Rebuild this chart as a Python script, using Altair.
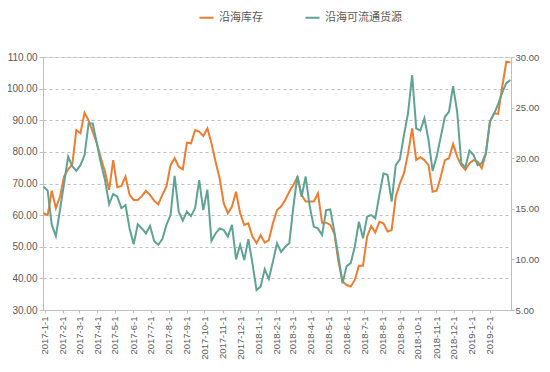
import altair as alt
import pandas as pd
from datetime import date, timedelta

# 沿海库存 (left axis), weekly
coastal_stock = [
    60.6, 60, 67.7, 62.2, 65.8, 72.2, 74.5, 76, 86.9, 85.9,
    92.4, 89.9, 86.4, 82.7, 78, 73.7, 68, 77.4, 68.8, 69.2,
    72.2, 66.4, 64.8, 64.8, 66, 67.7, 66.4, 64.5, 63.4, 66.4,
    69, 75.8, 78, 75.3, 74.5, 82.9, 82.7, 86.9, 86.4, 85,
    87.4, 82.7, 76.9, 71.6, 63.7, 60.6, 62.7, 67.4, 60.6, 56.9,
    57.4, 53.2, 51.1, 53.7, 51.3, 52.1, 57.4, 61.6, 62.7, 64.8,
    67.4, 69.5, 72, 66.4, 64.3, 64.3, 64.3, 66.9, 57.6, 57.6,
    56.9, 54.2, 45.3, 39, 37.9, 37.4, 39.5, 44, 44, 53.2,
    56.6, 54.5, 57.9, 57.4, 54.8, 55.3, 65.8, 70, 73.2, 79.5,
    87.4, 77.4, 78.3, 77.4, 75.8, 67.4, 67.7, 72.2, 77.4, 78,
    82.5, 78.5, 75.8, 74.3, 76.4, 77.4, 76.9, 74.8, 79.5, 89.6,
    92.2, 92, 100.6, 108.5, 108.3,
]

# 沿海可流通货源 (right axis), weekly
coastal_flow = [
    17.19, 16.78, 13.41, 12.31, 14.88, 17.5, 20.16, 19.22, 18.75, 19.31,
    20.31, 23.44, 23.44, 21.47, 19.5, 17.84, 15.47, 16.47, 16.19, 15.06,
    15.38, 13.06, 11.5, 13.47, 13.06, 12.56, 13.31, 11.81, 11.44, 12.0,
    13.41, 14.38, 18.25, 14.72, 13.84, 14.72, 14.28, 15.06, 17.84, 14.88,
    16.88, 11.84, 12.56, 13.06, 12.91, 12.25, 13.41, 10.0, 11.44, 9.94,
    12.0, 9.63, 6.97, 7.31, 9.03, 8.06, 9.78, 11.59, 10.75, 11.25,
    11.59, 15.22, 18.25, 16.19, 18.19, 15.22, 13.22, 13.06, 12.41, 14.88,
    14.94, 12.75, 10.28, 7.63, 9.34, 9.63, 11.25, 13.72, 12.09, 14.22,
    14.38, 14.06, 16.38, 18.5, 18.34, 15.72, 19.31, 19.88, 22.28, 24.44,
    28.22, 22.94, 22.72, 23.94, 21.81, 18.75, 20.16, 22.13, 24.09, 24.59,
    27.13, 24.59, 19.5, 19.09, 20.75, 20.31, 19.31, 19.5, 20.47, 23.63,
    24.38, 25.34, 26.47, 27.41, 27.72,
]

series_names = ["沿海库存", "沿海可流通货源"]
left_ticks = [30, 40, 50, 60, 70, 80, 90, 100, 110]
right_ticks = [5, 10, 15, 20, 25, 30]
month_ticks = [(y, m) for y in (2017, 2018) for m in range(1, 13)] + [(2019, 1), (2019, 2)]

start = date(2016, 12, 30)
dates = [(start + timedelta(days=7 * i)).isoformat() for i in range(len(coastal_stock))]

ORANGE = "#ED7D31"
GREEN = "#5FA395"
LABEL = "#595959"
AXIS = "#BFBFBF"

df1 = pd.DataFrame({"date": dates, "value": coastal_stock, "series": series_names[0]})
df2 = pd.DataFrame({"date": dates, "value": coastal_flow, "series": series_names[1]})

x = alt.X(
    "date:T",
    title=None,
    scale=alt.Scale(
        type="utc",
        domain=[alt.DateTime(year=2016, month=12, date=29, utc=True),
                alt.DateTime(year=2019, month=3, date=9, utc=True)],
    ),
    axis=alt.Axis(
        values=[alt.DateTime(year=y, month=m, date=1, utc=True) for y, m in month_ticks],
        labelExpr="utcFormat(datum.value, '%Y-%-m-%-d')",
        labelAngle=-90,
        labelAlign="right",
        labelBaseline="middle",
        labelFont="Liberation Sans",
        labelFontSize=9.5,
        labelColor=LABEL,
        labelPadding=3,
        labelBound=False,
        domainColor=AXIS,
        tickColor=AXIS,
        tickSize=3,
        grid=False,
        labelOverlap=False,
    ),
)

color = alt.Color(
    "series:N",
    scale=alt.Scale(domain=series_names, range=[ORANGE, GREEN]),
    legend=alt.Legend(
        title=None,
        orient="none",
        direction="horizontal",
        legendX=155,
        legendY=-48,
        symbolType="stroke",
        symbolStrokeWidth=2,
        symbolSize=200,
        labelFont="Noto Sans CJK SC",
        labelFontSize=11,
        labelColor=LABEL,
        columnPadding=38,
    ),
)

left = alt.Chart(df1).mark_line(strokeWidth=2).encode(
    x=x,
    y=alt.Y(
        "value:Q",
        title=None,
        scale=alt.Scale(domain=[30, 110], nice=False, zero=False),
        axis=alt.Axis(
            values=left_ticks,
            format=".2f",
            labelFont="Liberation Sans",
            labelFontSize=10,
            labelColor=LABEL,
            domainColor=AXIS,
            tickColor=AXIS,
            tickSize=4,
            grid=True,
            gridColor="#BFBFBF",
            gridDash=[3, 3],
            gridWidth=1,
        ),
    ),
    color=color,
)

right = alt.Chart(df2).mark_line(strokeWidth=2).encode(
    x=x,
    y=alt.Y(
        "value:Q",
        title=None,
        scale=alt.Scale(domain=[5, 30], nice=False, zero=False),
        axis=alt.Axis(
            orient="right",
            values=right_ticks,
            format=".2f",
            labelFont="Liberation Sans",
            labelFontSize=9.5,
            labelColor=LABEL,
            labelPadding=1,
            domainColor=AXIS,
            tickColor=AXIS,
            tickSize=3,
            grid=False,
        ),
    ),
    color=color,
)

chart = (
    alt.layer(left, right)
    .resolve_scale(y="independent")
    .properties(
        width=468,
        height=253,
        autosize=alt.AutoSizeParams(type="none"),
        padding={"left": 35, "top": 49, "right": 31, "bottom": 56},
    )
    .configure_view(stroke=None)
    .configure(background="white")
)

chart.save("out.html", embed_options={"renderer": "svg", "actions": False})
